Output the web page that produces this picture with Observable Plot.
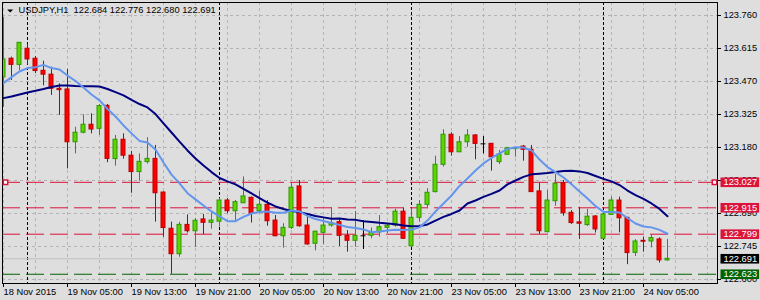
<!DOCTYPE html>
<html>
<head>
<meta charset="utf-8">
<script src="https://cdn.jsdelivr.net/npm/d3@7"></script>
<script src="https://cdn.jsdelivr.net/npm/@observablehq/plot@0.6"></script>
<style>
  html, body { margin: 0; padding: 0; background: #dedede; }
  #chart { width: 760px; height: 300px; }
</style>
</head>
<body>
<div id="chart"></div>
<script>
// ---- data (USDJPY H1) ----
const symbolName = "USDJPY,H1";
const lastOHLC = [122.684, 122.776, 122.680, 122.691];

const opens = [123.488,123.570,123.543,123.614,123.570,123.517,123.500,123.438,123.435,123.203,
  123.245,123.280,123.262,123.363,123.129,123.214,123.144,123.072,123.116,123.130,
  122.982,122.823,122.711,122.840,122.812,122.864,122.849,122.854,122.947,122.900,
  122.935,122.959,122.900,122.928,122.859,122.790,122.827,123.009,122.837,122.757,
  122.805,122.837,122.852,122.792,122.770,122.792,122.792,122.807,122.827,122.837,
  122.898,122.746,122.871,122.928,122.984,123.104,123.236,123.159,123.203,123.233,
  123.196,123.196,123.116,123.148,123.173,123.184,123.170,122.987,122.808,122.944,
  123.023,122.893,122.851,122.839,122.877,122.779,122.884,122.947,122.871,122.717,
  122.770,122.767,122.776,122.684];
const highs = [123.751,123.577,123.641,123.631,123.580,123.559,123.533,123.460,123.523,123.269,
  123.324,123.328,123.369,123.369,123.233,123.240,123.163,123.152,123.223,123.189,
  122.985,122.852,122.851,122.884,122.868,122.886,122.891,122.957,122.956,122.947,
  123.051,122.962,122.987,122.947,122.881,122.845,123.021,123.035,122.877,122.812,
  122.871,122.915,122.869,122.815,122.899,122.859,122.826,122.881,122.846,122.909,
  122.913,122.911,122.947,122.999,123.142,123.258,123.245,123.228,123.258,123.236,
  123.228,123.198,123.167,123.181,123.179,123.189,123.189,123.023,122.991,123.061,
  123.035,122.903,122.915,122.908,122.880,122.888,122.962,122.962,122.873,122.775,
  122.786,122.797,122.783,122.776];
const lows = [123.356,123.474,123.518,123.543,123.505,123.451,123.409,123.321,123.086,123.152,
  123.240,123.240,123.233,123.113,123.098,123.129,122.979,123.032,123.107,122.852,
  122.786,122.623,122.698,122.804,122.742,122.797,122.821,122.830,122.889,122.859,
  122.934,122.848,122.889,122.834,122.788,122.738,122.820,122.830,122.751,122.726,
  122.754,122.830,122.745,122.720,122.742,122.732,122.779,122.786,122.801,122.830,
  122.776,122.743,122.852,122.911,122.980,123.094,123.142,123.157,123.181,123.126,
  123.152,123.076,123.105,123.146,123.137,123.120,122.982,122.798,122.806,122.922,
  122.878,122.842,122.776,122.833,122.804,122.777,122.882,122.805,122.665,122.701,
  122.720,122.739,122.672,122.680];
const closes = [123.567,123.543,123.640,123.567,123.516,123.500,123.438,123.432,123.203,123.245,
  123.280,123.259,123.362,123.130,123.214,123.144,123.072,123.117,123.130,122.979,
  122.826,122.711,122.840,122.812,122.858,122.849,122.859,122.947,122.900,122.940,
  122.965,122.889,122.928,122.856,122.790,122.827,123.003,122.834,122.754,122.810,
  122.837,122.848,122.792,122.770,122.792,122.792,122.804,122.830,122.836,122.898,
  122.779,122.871,122.928,122.981,123.104,123.236,123.159,123.203,123.233,123.196,
  123.196,123.137,123.149,123.177,123.177,123.170,122.984,122.812,122.947,123.021,
  122.891,122.848,122.845,122.876,122.820,122.886,122.947,122.869,122.716,122.767,
  122.766,122.782,122.684,122.691];
// fast moving average (light blue) and slow moving average (navy), read per bar
const maFast = [123.463,123.489,123.514,123.529,123.533,123.543,123.529,123.523,123.496,123.472,
  123.444,123.413,123.387,123.349,123.316,123.277,123.242,123.209,123.202,123.171,
  123.114,123.061,123.022,122.979,122.952,122.925,122.899,122.877,122.856,122.856,
  122.875,122.890,122.897,122.899,122.893,122.893,122.903,122.899,122.879,122.866,
  122.857,122.848,122.840,122.831,122.826,122.820,122.808,122.811,122.815,122.819,
  122.818,122.820,122.829,122.859,122.899,122.934,122.969,123.011,123.044,123.079,
  123.110,123.134,123.154,123.174,123.181,123.180,123.167,123.127,123.094,123.072,
  123.048,123.018,122.987,122.956,122.923,122.897,122.897,122.894,122.870,122.846,
  122.833,122.829,122.818,122.801];
const maSlow = [123.397,123.404,123.413,123.422,123.429,123.437,123.446,123.452,123.452,123.450,
  123.449,123.449,123.448,123.437,123.423,123.409,123.389,123.371,123.356,123.327,
  123.286,123.246,123.206,123.167,123.132,123.101,123.072,123.046,123.031,123.018,
  122.998,122.978,122.958,122.938,122.921,122.910,122.901,122.896,122.888,122.879,
  122.873,122.867,122.868,122.864,122.862,122.856,122.853,122.849,122.846,122.843,
  122.837,122.834,122.835,122.842,122.859,122.875,122.888,122.903,122.934,122.947,
  122.963,122.976,122.991,123.018,123.035,123.051,123.062,123.065,123.068,123.072,
  123.077,123.078,123.075,123.068,123.055,123.042,123.031,123.015,122.991,122.971,
  122.954,122.934,122.910,122.878];

const xTickBars = [0, 8, 16, 24, 32, 40, 48, 56, 64, 72, 80];
const xTickLabels = ["18 Nov 2015", "19 Nov 05:00", "19 Nov 13:00", "19 Nov 21:00", "20 Nov 05:00",
  "20 Nov 13:00", "20 Nov 21:00", "23 Nov 05:00", "23 Nov 13:00", "23 Nov 21:00", "24 Nov 05:00"];
const yTicks = [123.760, 123.615, 123.470, 123.325, 123.180, 123.035, 122.890, 122.745, 122.600];
const gridBars = [0,4,8,12,16,20,24,28,32,36,40,44,48,52,56,60,64,68,72,76,80,84,88];
const daySeparatorBars = [3, 27, 51, 75];
const redLevels = [123.027, 122.915, 122.799];
const greenLevels = [122.623];
const bidPrice = 122.691;
const selectedLevel = [123.027];

// ---- styles ----
const C = {
  bg: "#dedede", grid: "#b4b4b4",
  upFill: "#5fd400", upEdge: "#2e9600",
  downFill: "#ff0000", downEdge: "#b80000",
  crimson: "#dc143c", green: "#006400", bid: "#c0c0c0",
  fast: "#6495ed", slow: "#000080"
};
const tagPrices = [...redLevels, bidPrice, ...greenLevels];
const tagColors = [C.crimson, C.crimson, C.crimson, "#000000", C.green];
const tagColorByText = new Map(tagPrices.map((p, k) => [p.toFixed(3), tagColors[k]]));

const bars = opens.map((o, i) => ({i, o, h: highs[i], l: lows[i], c: closes[i], fast: maFast[i], slow: maSlow[i]}));
const kind = d => d.c > d.o ? "up" : d.c < d.o ? "down" : "flat";
const fillOf = d => ({up: C.upFill, down: C.downFill, flat: "#000000"})[kind(d)];
const edgeOf = d => ({up: C.upEdge, down: C.downEdge, flat: "#000000"})[kind(d)];
const bodies = bars.filter(d => d.c !== d.o);
const dojis = bars.filter(d => d.c === d.o);
const HW = 0.25;

const downTriangle = {
  draw(ctx, size) {
    const s = Math.sqrt(size);
    ctx.moveTo(-s, -s / 2); ctx.lineTo(s, -s / 2); ctx.lineTo(0, s / 2); ctx.closePath();
  }
};

const titleText = symbolName + "\u00a0 " + lastOHLC.map(v => v.toFixed(3)).join(" ");

const chart = Plot.plot({
  width: 760, height: 300,
  marginLeft: 2, marginRight: 43, marginTop: 2, marginBottom: 17,
  x: {type: "linear", domain: [-0.125, 89.25]},
  y: {type: "linear", domain: [122.5824, 123.8171]},
  color: {type: "identity"},
  style: {background: C.bg, fontFamily: "'Liberation Sans', Arial, sans-serif", fontSize: "9.3px", color: "#000"},
  marks: [
    Plot.gridY(yTicks, {stroke: C.grid, strokeOpacity: 1, strokeDasharray: "3,3"}),
    Plot.gridX(gridBars, {stroke: C.grid, strokeOpacity: 1, strokeDasharray: "3,3"}),
    Plot.ruleX(daySeparatorBars, {stroke: "#000", strokeDasharray: "3,2"}),
    Plot.ruleY([bidPrice], {stroke: C.bid}),
    Plot.ruleY(redLevels, {stroke: C.crimson, strokeDasharray: "18,6"}),
    Plot.ruleY(greenLevels, {stroke: C.green, strokeDasharray: "18,6"}),
    Plot.ruleX(bars, {x: "i", y1: "l", y2: "h", stroke: edgeOf, clip: true}),
    Plot.rect(bodies, {x1: d => d.i - HW, x2: d => d.i + HW, y1: "o", y2: "c", fill: fillOf, stroke: edgeOf, clip: true}),
    Plot.ruleY(dojis, {x1: d => d.i - HW - 0.06, x2: d => d.i + HW + 0.06, y: "o", stroke: "#000", clip: true}),
    Plot.line(bars, {x: "i", y: "slow", stroke: C.slow, strokeWidth: 2, clip: true}),
    Plot.line(bars, {x: "i", y: "fast", stroke: C.fast, strokeWidth: 2, clip: true}),
    Plot.frame({stroke: "#000"}),
    Plot.axisY({ticks: yTicks, anchor: "right", tickFormat: d3.format(".3f"), tickSize: 3, tickPadding: 3, label: null}),
    Plot.axisX({ticks: xTickBars, anchor: "bottom", tickFormat: d => xTickLabels[xTickBars.indexOf(d)], textAnchor: "start", tickSize: 4, tickPadding: 1, label: null}),
    Plot.dot(selectedLevel, {y: d => d, frameAnchor: "left", dx: 3, symbol: "square", r: 2.5, fill: "#fff", stroke: C.crimson}),
    Plot.dot(selectedLevel, {y: d => d, frameAnchor: "right", dx: -3, symbol: "square", r: 2.5, fill: "#fff", stroke: C.crimson}),
    Plot.text(tagPrices, {y: d => d, text: d => d.toFixed(3), frameAnchor: "right", dx: 6, textAnchor: "start", fill: "#fff"}),
    Plot.dot([0], {frameAnchor: "top-left", dx: 7.7, dy: 8.5, symbol: downTriangle, r: 1.7, fill: "#000", stroke: null}),
    Plot.text([titleText], {frameAnchor: "top-left", dx: 16, dy: 4, textAnchor: "start", lineAnchor: "top", fill: "#000"})
  ]
});

document.getElementById("chart").append(chart);

// coloured background boxes behind the price tags on the right scale
d3.select(chart).selectAll("text")
  .filter(function() { return tagColorByText.has(this.textContent.trim()); })
  .each(function() {
    const bb = this.getBBox();
    const r = document.createElementNS("http://www.w3.org/2000/svg", "rect");
    const t = this.getAttribute("transform");
    if (t) r.setAttribute("transform", t);
    const cy = bb.y + bb.height / 2;
    r.setAttribute("x", bb.x - 3);
    r.setAttribute("y", cy - 4.8);
    r.setAttribute("width", bb.width + 5);
    r.setAttribute("height", 9.6);
    r.setAttribute("fill", tagColorByText.get(this.textContent.trim()));
    r.setAttribute("stroke", "none");
    this.parentNode.insertBefore(r, this);
  });
</script>
</body>
</html>
